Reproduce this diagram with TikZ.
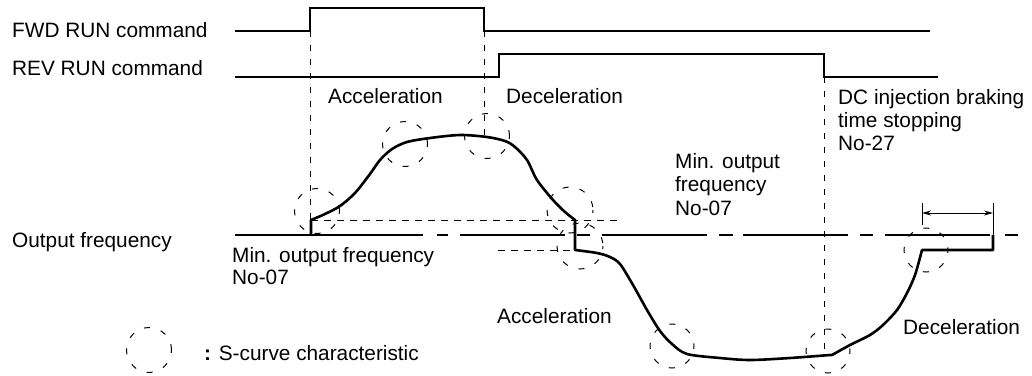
\documentclass[tikz,border=0pt]{standalone}
\usepackage{fontspec}
\setmainfont{Liberation Sans}
\usetikzlibrary{arrows.meta}
\begin{document}
\begin{tikzpicture}[x=1pt,y=-1pt,
  lbl/.style={anchor=base west,inner sep=0pt,font=\fontsize{20.8}{23}\selectfont},
  sig/.style={line width=1.2pt},
  curve/.style={line width=2.6pt,line join=round},
  guide/.style={line width=1pt,dash pattern=on 6pt off 8pt},
  hguide/.style={line width=1pt,dash pattern=on 7pt off 6pt},
  scirc/.style={line width=1pt,dash pattern=on 6pt off 11.3pt,dash phase=3pt},
  dim/.style={line width=1pt}]
\useasboundingbox (0,0) rectangle (1032,375);

% labels
\node[lbl] (fwd) at (12,37.5) {FWD RUN command};
\node[lbl] (rev) at (12,75) {REV RUN command};
\node[lbl] (acc1) at (328,103) {Acceleration};
\node[lbl] (dec1) at (506,103) {Deceleration};
\node[lbl] (dc1) at (838,104) {DC injection braking};
\node[lbl] (dc2) at (838,127) {time stopping};
\node[lbl] (dc3) at (838,150) {No-27};
\node[lbl] (mo1) at (675,168) {Min. output};
\node[lbl] (mo2) at (675,191) {frequency};
\node[lbl] (mo3) at (675,215) {No-07};
\node[lbl] (of) at (12,247) {Output frequency};
\node[lbl] (ml1) at (232,262) {Min. output frequency};
\node[lbl] (ml2) at (232,284) {No-07};
\node[lbl] (acc2) at (497,323) {Acceleration};
\node[lbl] (dec2) at (903,334) {Deceleration};
\node[lbl] (leg) at (204,360) {\textbf{:} S-curve characteristic};

% run command signals
\draw[sig] (235,31) -- (310,31) -- (310,8) -- (484,8) -- (484,31) -- (930,31);
\draw[sig] (235,77) -- (499,77) -- (499,54) -- (824,54) -- (824,77) -- (938,77);

% guide lines
\draw[guide] (310,31) -- (310,220);
\draw[guide] (484,31) -- (484,137);
\draw[guide] (824,77) -- (824,355);
\draw[hguide] (311,220) -- (620,220);
\draw[hguide] (498,250) -- (575,250);

% output frequency axis (centre line)
\draw[sig] (235,235) -- (423,235);
\draw[sig] (437,235) -- (448,235);
\draw[sig] (460,235) -- (565,235);
\draw[sig] (577,235) -- (590,235);
\draw[sig] (602,235) -- (707,235);
\draw[sig] (719,235) -- (733,235);
\draw[sig] (743,235) -- (848,235);
\draw[sig] (860,235) -- (873,235);
\draw[sig] (885,235) -- (990,235);
\draw[sig] (1005,235) -- (1018,235);

% frequency curve
\draw[curve] (311,235) -- plot[smooth,tension=.5] coordinates {(311,220) (325,214) (340,206) (355,193) (370,174) (380,160) (392,149) (407,142) (430,138) (460,135) (487,137) (505,141) (515,147) (527,160) (537,180) (553,200) (565,212) (575,220)}
  -- plot[smooth,tension=.5] coordinates {(575,250) (597,253) (610,257) (620,264) (633,285) (647,310) (660,331) (672,344) (687,354) (720,358) (750,360) (790,358) (830,355)}
  -- plot[smooth,tension=.5] coordinates {(832,355) (850,345) (870,335) (883,325) (897,310) (907,293) (915,275) (922,250)}
  -- (993,250) -- (993,235);

% DC braking time dimension
\draw[dim] (922,203) -- (922,225);
\draw[dim] (993,203) -- (993,235);
\draw[dim,{Stealth[length=9pt,width=5pt]}-{Stealth[length=9pt,width=5pt]}] (922,213) -- (993,213);

% S-curve markers
\foreach \cx/\cy/\r [count=\i] in {317/211/22.5, 405/144/22.5, 487/136/22.5, 570/210/23, 580/246/23, 672/346/22, 828/351/22, 926/250/22, 149/350/22.5}
  \draw[scirc] (\cx,\cy) circle[radius=\r];
\end{tikzpicture}
\end{document}
